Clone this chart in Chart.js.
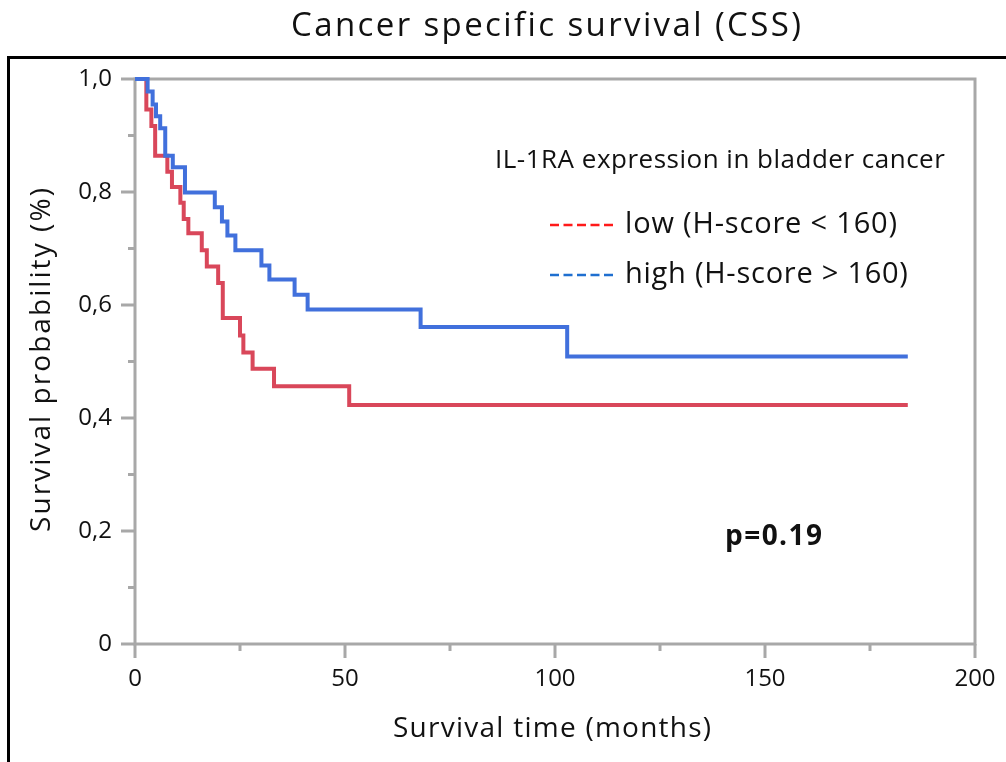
<!DOCTYPE html>
<html>
<head>
<meta charset="utf-8">
<script src="https://cdn.jsdelivr.net/npm/chart.js@4.4.1/dist/chart.umd.min.js"></script>
<style>
  html, body { margin: 0; padding: 0; background: #fff; }
  #wrap { width: 1006px; height: 762px; }
</style>
</head>
<body>
<div id="wrap"><canvas id="kmChart" width="1006" height="762"></canvas></div>
<script>
const chartTitle = 'Cancer specific survival (CSS)';
const xTitle = 'Survival time (months)';
const yTitle = 'Survival probability (%)';
const legendTitle = 'IL-1RA expression in bladder cancer';
const seriesNames = ['high (H-score > 160)', 'low (H-score < 160)'];
const pValueText = 'p=0.19';

// Kaplan-Meier steps (months, survival)
const highTimes = [0, 3.0, 4.2, 5.0, 6.0, 7.2, 9.0, 11.9, 19.0, 20.7, 22.0, 23.9, 30.1, 32.0, 38.0, 41.1, 68.0, 102.9, 184];
const highSurv = [1.0, 0.978, 0.955, 0.934, 0.913, 0.864, 0.844, 0.799, 0.773, 0.748, 0.723, 0.697, 0.670, 0.645, 0.618, 0.592, 0.561, 0.509, 0.509];
const lowTimes = [0, 2.7, 3.9, 4.8, 7.7, 8.8, 10.8, 11.6, 12.7, 15.9, 17.1, 19.8, 20.9, 25.0, 25.8, 28.0, 33.1, 51.0, 184];
const lowSurv = [1.0, 0.946, 0.917, 0.864, 0.836, 0.809, 0.781, 0.752, 0.727, 0.697, 0.668, 0.639, 0.577, 0.546, 0.516, 0.487, 0.456, 0.423, 0.423];

const xTicks = [0, 50, 100, 150, 200];
const xMinorTicks = [25, 75, 125, 175];
const yTicks = [0, 0.2, 0.4, 0.6, 0.8, 1.0];
const yTickLabels = ['0', '0,2', '0,4', '0,6', '0,8', '1,0'];
const yMinorTicks = [0.1, 0.3, 0.5, 0.7, 0.9];

const FONT = '"Open Sans", "Noto Sans", sans-serif';
const AXIS_GRAY = '#a8a8a8';

const toPoints = (times, surv) => times.map((t, i) => ({x: t, y: surv[i]}));

// draws text starting at x, spread to a given width (the original font runs wider)
function spreadText(ctx, text, x, y, width) {
    ctx.letterSpacing = '0px';
    const base = ctx.measureText(text).width;
    const sp = Math.max(0, (width - base) / Math.max(1, text.length - 1));
    ctx.letterSpacing = sp.toFixed(2) + 'px';
    ctx.textAlign = 'left';
    ctx.fillText(text, x, y);
    ctx.letterSpacing = '0px';
}

const decorPlugin = {
    id: 'kmDecor',
    beforeDatasetsDraw(chart) {
        const {ctx, chartArea: a, scales: {x, y}} = chart;
        ctx.save();
        // outer black frame (top + left)
        ctx.strokeStyle = '#000';
        ctx.lineWidth = 3;
        ctx.beginPath();
        ctx.moveTo(8.5, 762);
        ctx.lineTo(8.5, 57.5);
        ctx.lineTo(1006, 57.5);
        ctx.stroke();

        // plot frame
        ctx.strokeStyle = AXIS_GRAY;
        ctx.lineWidth = 3;
        ctx.strokeRect(a.left, a.top, a.right - a.left, a.bottom - a.top);

        // ticks
        ctx.beginPath();
        yTicks.forEach(v => { const py = y.getPixelForValue(v); ctx.moveTo(a.left - 14, py); ctx.lineTo(a.left, py); });
        yMinorTicks.forEach(v => { const py = y.getPixelForValue(v); ctx.moveTo(a.left - 7, py); ctx.lineTo(a.left, py); });
        xTicks.forEach(v => { const px = x.getPixelForValue(v); ctx.moveTo(px, a.bottom); ctx.lineTo(px, a.bottom + 14); });
        xMinorTicks.forEach(v => { const px = x.getPixelForValue(v); ctx.moveTo(px, a.bottom); ctx.lineTo(px, a.bottom + 7); });
        ctx.stroke();
        ctx.restore();
    },
    afterDraw(chart) {
        const {ctx, chartArea: a, scales: {x, y}} = chart;
        ctx.save();
        ctx.fillStyle = '#111';
        ctx.textBaseline = 'middle';

        // title
        ctx.font = `33px ${FONT}`;
        spreadText(ctx, chartTitle, 291, 27, 510);

        // tick labels
        ctx.font = `24px ${FONT}`;
        ctx.textAlign = 'right';
        yTicks.forEach((v, i) => ctx.fillText(yTickLabels[i], a.left - 23, y.getPixelForValue(v)));
        ctx.textAlign = 'center';
        xTicks.forEach(v => ctx.fillText(String(v), x.getPixelForValue(v), a.bottom + 35));

        // axis titles
        ctx.font = `28px ${FONT}`;
        spreadText(ctx, xTitle, 393, 729, 318);
        ctx.save();
        ctx.translate(42, 532);
        ctx.rotate(-Math.PI / 2);
        spreadText(ctx, yTitle, 0, 0, 344);
        ctx.restore();

        // legend
        ctx.font = `26px ${FONT}`;
        spreadText(ctx, legendTitle, 495, 161, 450);
        const rows = [
            {label: seriesNames[1], color: '#ff1a1a', yPos: 225, w: 272},
            {label: seriesNames[0], color: '#1f6fd0', yPos: 275, w: 283}
        ];
        ctx.font = `29px ${FONT}`;
        rows.forEach(r => {
            ctx.save();
            ctx.strokeStyle = r.color;
            ctx.lineWidth = 2.5;
            ctx.setLineDash([9, 4.5]);
            ctx.beginPath();
            ctx.moveTo(550, r.yPos);
            ctx.lineTo(616, r.yPos);
            ctx.stroke();
            ctx.restore();
            spreadText(ctx, r.label, 625, r.yPos, r.w);
        });

        // p-value
        ctx.font = `bold 28px ${FONT}`;
        spreadText(ctx, pValueText, 725, 537, 97);
        ctx.restore();
    }
};

document.addEventListener('DOMContentLoaded', () => {
    const canvas = document.getElementById('kmChart');
    new Chart(canvas, {
        type: 'line',
        data: {
            datasets: [{
                label: seriesNames[0],
                data: toPoints(highTimes, highSurv),
                borderColor: '#4170dc',
                borderWidth: 4,
                stepped: 'before',
                pointRadius: 0,
                fill: false,
                clip: false
            }, {
                label: seriesNames[1],
                data: toPoints(lowTimes, lowSurv),
                borderColor: '#d9475a',
                borderWidth: 4,
                stepped: 'before',
                pointRadius: 0,
                fill: false,
                clip: false
            }]
        },
        options: {
            responsive: false,
            animation: false,
            layout: { padding: { left: 135, right: 31, top: 79, bottom: 118 } },
            plugins: { legend: { display: false }, tooltip: { enabled: false } },
            scales: {
                x: { type: 'linear', min: 0, max: 200, display: false },
                y: { type: 'linear', min: 0, max: 1, display: false }
            }
        },
        plugins: [decorPlugin]
    });
});
</script>
</body>
</html>
